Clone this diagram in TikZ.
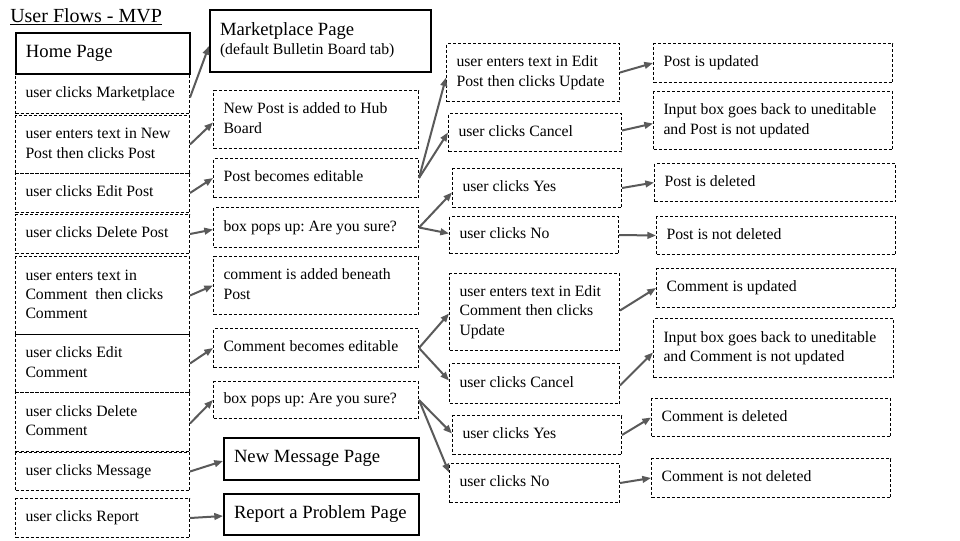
\documentclass[tikz,border=0pt]{standalone}
\usepackage{fontspec}
\setmainfont{Liberation Serif}
\usetikzlibrary{arrows.meta}
\definecolor{arrowgray}{HTML}{5A5A5A}
\frenchspacing
\newcommand{\flowbox}[7]{% style, name, x, y, w, h, text
  \pgfmathsetlengthmacro{\fbw}{0.75pt*(#5)}%
  \pgfmathsetlengthmacro{\fbh}{0.75pt*(#6)}%
  \pgfmathsetlengthmacro{\fbt}{0.75pt*(#5-20)}%
  \node[#1, anchor=north west, minimum width=\fbw, minimum height=\fbh] (#2) at (#3,#4) {\makebox[\fbt][l]{\begin{tabular}{@{}l@{}}#7\end{tabular}}};%
}
\tikzset{
  dbox/.style={draw, dash pattern=on 2.25pt off 1.5pt, line width=0.75pt, inner xsep=7.5pt, inner ysep=2pt, font=\fontsize{11.8}{14.5}\selectfont},
  sbox/.style={draw, line width=1.5pt, inner xsep=7.5pt, inner ysep=2pt, font=\fontsize{14}{14.5}\selectfont},
  flow/.style={draw=arrowgray, line width=1.5pt, -{Triangle[length=6.5pt,width=5pt]}},
  py/.style={yshift={(#1)*(-0.75pt)}}
}
\begin{document}
\begin{tikzpicture}[x=0.75pt, y=-0.75pt]
\useasboundingbox[fill=white] (0,0) rectangle (960,540);
\node[anchor=base west, inner sep=0pt, font=\fontsize{15}{18}\selectfont] (title) at (10,22) {\underline{User Flows - MVP}};
% left column
\flowbox{sbox}{home}{15}{32}{174}{41}{Home Page}
\flowbox{dbox}{m1}{15}{73}{174}{40}{user clicks Marketplace}
\flowbox{dbox}{m2}{15}{115}{174}{58}{user enters text in New\\Post then clicks Post}
\flowbox{dbox}{m3}{15}{173}{174}{39}{user clicks Edit Post}
\flowbox{dbox}{m4}{15}{214}{174}{39}{user clicks Delete Post}
\flowbox{dbox}{m5}{15}{256}{174}{78}{user enters text in\\Comment~ then clicks\\Comment}
\flowbox{dbox}{m6}{15}{334}{174}{58}{user clicks Edit\\Comment}
\flowbox{dbox}{m7}{15}{392}{174}{59}{user clicks Delete\\Comment}
\flowbox{dbox}{m8}{15}{452}{174}{38}{user clicks Message}
\flowbox{dbox}{m9}{15}{498}{174}{39}{user clicks Report}
% middle column
\flowbox{sbox}{mp}{209}{9}{221}{62}{Marketplace Page\\{\fontsize{11.8}{14.5}\selectfont (default Bulletin Board tab)}}
\flowbox{dbox}{c1}{213}{90}{205}{58}{New Post is added to Hub\\Board}
\flowbox{dbox}{c2}{213}{158}{205}{39}{Post becomes editable}
\flowbox{dbox}{c3}{213}{207}{205}{40}{box pops up: Are you sure?}
\flowbox{dbox}{c4}{213}{256}{205}{58}{comment is added beneath\\Post}
\flowbox{dbox}{c5}{213}{328}{205}{39}{Comment becomes editable}
\flowbox{dbox}{c6}{213}{381}{205}{37}{box pops up: Are you sure?}
\flowbox{sbox}{nm}{223}{437}{195}{42}{New Message Page}
\flowbox{sbox}{rp}{223}{493}{195}{41}{Report a Problem Page}
% third column
\flowbox{dbox}{t1}{446}{43}{173}{58}{user enters text in Edit\\Post then clicks Update}
\flowbox{dbox}{t2}{448}{113}{173}{38}{user clicks Cancel}
\flowbox{dbox}{t3}{452}{168}{169}{39}{user clicks Yes}
\flowbox{dbox}{t4}{449}{216}{169}{37}{user clicks No}
\flowbox{dbox}{t5}{449}{273}{170}{77}{user enters text in Edit\\Comment then clicks\\Update}
\flowbox{dbox}{t6}{449}{363}{170}{40}{user clicks Cancel}
\flowbox{dbox}{t7}{452}{415}{169}{39}{user clicks Yes}
\flowbox{dbox}{t8}{449}{463}{170}{39}{user clicks No}
% fourth column
\flowbox{dbox}{f1}{653}{43}{239}{39}{Post is updated}
\flowbox{dbox}{f2}{653}{91}{239}{58}{Input box goes back to uneditable\\and Post is not updated}
\flowbox{dbox}{f3}{654}{163}{241}{38}{Post is deleted}
\flowbox{dbox}{f4}{656}{216}{239}{38}{Post is not deleted}
\flowbox{dbox}{f5}{656}{268}{239}{39}{Comment is updated}
\flowbox{dbox}{f6}{653}{318}{240}{59}{Input box goes back to uneditable\\and Comment is not updated}
\flowbox{dbox}{f7}{651}{398}{239}{38}{Comment is deleted}
\flowbox{dbox}{f8}{651}{458}{239}{39}{Comment is not deleted}
% connectors
\draw[flow] ([py=4]m1.east) -- ([py=5]mp.west);
\draw[flow] (m2.east) -- ([py=3]c1.west);
\draw[flow] (m3.east) -- (c2.west);
\draw[flow] (m4.east) -- ([py=2]c3.west);
\draw[flow] (m5.east) -- (c4.west);
\draw[flow] (m6.east) -- (c5.west);
\draw[flow] ([py=1.5]m7.east) -- (c6.west);
\draw[flow] (m8.east) -- ([py=2]nm.west);
\draw[flow] (m9.east) -- ([py=1.5]rp.west);
\draw[flow] (c2.east) -- ([py=5]t1.west);
\draw[flow] (c2.east) -- (t2.west);
\draw[flow] (c3.east) -- ([py=4.5]t3.west);
\draw[flow] (c3.east) -- ([py=-1.5]t4.west);
\draw[flow] (c5.east) -- ([py=1.5]t5.west);
\draw[flow] (c5.east) -- ([py=-3]t6.west);
\draw[flow] (c6.east) -- ([py=-1.5]t7.west);
\draw[flow] (c6.east) -- ([py=-10.5]t8.west);
\draw[flow] (t1.east) -- (f1.west);
\draw[flow] ([py=-2]t2.east) -- ([py=3]f2.west);
\draw[flow] (t3.east) -- (f3.west);
\draw[flow] (t4.east) -- (f4.west);
\draw[flow] ([py=-1.5]t5.east) -- (f5.west);
\draw[flow] ([py=2]t6.east) -- ([py=4.5]f6.west);
\draw[flow] (t7.east) -- (f7.west);
\draw[flow] (t8.east) -- (f8.west);
\end{tikzpicture}
\end{document}
